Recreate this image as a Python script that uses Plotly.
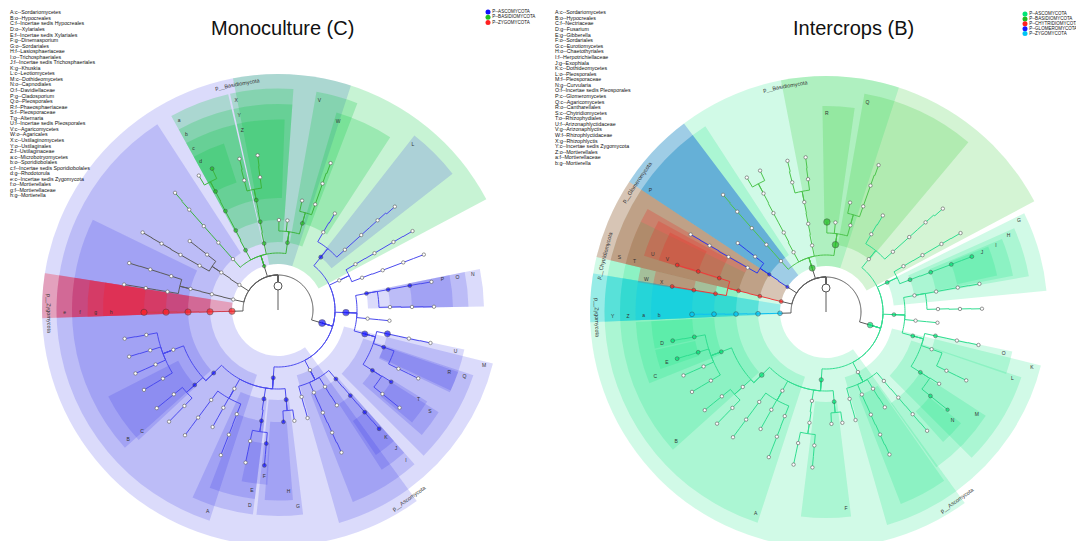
import math
import plotly.graph_objects as go

# ---------------- biomarker keys (text lists, top left of each panel) ----------------
mono_keys = [
    "A:c--Sordariomycetes", "B:o--Hypocreales", "C:f--Incertae sedis Hypocreales",
    "D:o--Xylariales", "E:f--Incertae sedis Xylariales", "F:g--Dinemasporium",
    "G:o--Sordariales", "H:f--Lasiosphaeriaceae", "I:o--Trichosphaeriales",
    "J:f--Incertae sedis Trichosphaeriales", "K:g--Khuskia", "L:c--Leotiomycetes",
    "M:c--Dothideomycetes", "N:o--Capnodiales", "O:f--Davidiellaceae",
    "P:g--Cladosporium", "Q:o--Pleosporales", "R:f--Phaeosphaeriaceae",
    "S:f--Pleosporaceae", "T:g--Alternaria", "U:f--Incertae sedis Pleosporales",
    "V:c--Agaricomycetes", "W:o--Agaricales", "X:c--Ustilaginomycetes",
    "Y:o--Ustilaginales", "Z:f--Ustilaginaceae", "a:c--Microbotryomycetes",
    "b:o--Sporidiobolales", "c:f--Incertae sedis Sporidiobolales", "d:g--Rhodotorula",
    "e:c--Incertae sedis Zygomycota", "f:o--Mortierellales", "g:f--Mortierellaceae",
    "h:g--Mortierella",
]
inter_keys = [
    "A:c--Sordariomycetes", "B:o--Hypocreales", "C:f--Nectriaceae", "D:g--Fusarium",
    "E:g--Gibberella", "F:o--Sordariales", "G:c--Eurotiomycetes", "H:o--Chaetothyriales",
    "I:f--Herpotrichiellaceae", "J:g--Exophiala", "K:c--Dothideomycetes",
    "L:o--Pleosporales", "M:f--Pleosporaceae", "N:g--Curvularia",
    "O:f--Incertae sedis Pleosporales", "P:c--Glomeromycetes", "Q:c--Agaricomycetes",
    "R:o--Cantharellales", "S:c--Chytridiomycetes", "T:o--Rhizophydiales",
    "U:f--Arizonaphlyctidaceae", "V:g--Arizonaphlyctis", "W:f--Rhizophlyctidaceae",
    "X:g--Rhizophlyctis", "Y:c--Incertae sedis Zygomycota", "Z:o--Mortierellales",
    "a:f--Mortierellaceae", "b:g--Mortierella",
]

# ---------------- groups (phyla) ----------------
mono_groups = ["P--ASCOMYCOTA", "P--BASIDIOMYCOTA", "P--ZYGOMYCOTA"]
mono_group_phylum = ["asco", "basi", "zygo"]
inter_groups = ["P--ASCOMYCOTA", "P--BASIDIOMYCOTA", "P--CHYTRIDIOMYCOTA",
                "P--GLOMEROMYCOTA", "P--ZYGOMYCOTA"]
inter_group_phylum = ["asco", "basi", "chyt", "glom", "zygo"]

# ---------------- shared taxonomic tree (key, parent, level, angle in deg) ----------------
node_key = [
    "root", "asco", "basi", "glom", "chyt", "zygo",
    "zy2", "zy3", "zy4", "zy5",
    "ch2", "ch3", "ch4a", "ch5a", "ch6a", "ch4b", "ch5b", "ch6b",
    "gl2", "gl3a", "gl4a", "gl5a", "gl6a", "gl3b", "gl4b",
    "mb2", "mb3", "mb4", "mb5", "mb6a", "mb6b",
    "bx2", "bx3", "bx4", "bx5", "bx6",
    "us2", "us3", "us4", "us5a", "us6a", "us5b", "us6b",
    "ag2", "ca3", "ag3x", "ar3", "ar4a", "ar4b", "ar5", "ar6",
    "le2", "le3a", "le4a", "le3b", "le4b", "le5b", "le6b",
    "eu2", "eu3a", "eu4a", "eu5a", "eu6a", "eu3b", "eu4b", "eu5b", "eu6b",
    "do2", "cp3", "cp4a", "cp5a", "cp6a", "cp4b", "cp5b", "cp6b", "dx3", "dx4",
    "pl3", "pl4a", "pl5a", "pl6a", "pl4b", "pl5b", "pl6b", "pl4c", "pl5c", "pl5d", "pl6d",
    "tr2", "tr3a", "tr4a", "tr5a", "tr6a", "tr3b", "tr4b", "tr3c", "tr4c", "tr5c", "tr6c",
    "tr3d", "tr4d",
    "so2", "sd3", "sd4a", "sd4b", "xy3", "xy4", "xy5a", "xy6a", "xy5b", "xy6b",
    "sx3", "sx4a", "sx5a", "sx6a", "sx4b", "sx5b", "sx4c", "sx5c", "sx6c",
    "hy3", "hy4a", "hy5a", "hy6a", "hy5b", "hy6b",
    "ne4", "ne5a", "ne6a", "ne5b", "ne6b", "ne5c", "ne6c", "ne5d", "ne6d",
]
node_parent = [
    None, "root", "root", "root", "root", "root",
    "zygo", "zy2", "zy3", "zy4",
    "chyt", "ch2", "ch3", "ch4a", "ch5a", "ch3", "ch4b", "ch5b",
    "glom", "gl2", "gl3a", "gl4a", "gl5a", "gl2", "gl3b",
    "basi", "mb2", "mb3", "mb4", "mb5", "mb5",
    "basi", "bx2", "bx3", "bx4", "bx5",
    "basi", "us2", "us3", "us4", "us5a", "us4", "us5b",
    "basi", "ag2", "ag2", "ag2", "ar3", "ar3", "ar4b", "ar5",
    "asco", "le2", "le3a", "le2", "le3b", "le4b", "le5b",
    "asco", "eu2", "eu3a", "eu4a", "eu5a", "eu2", "eu3b", "eu4b", "eu5b",
    "asco", "do2", "cp3", "cp4a", "cp5a", "cp3", "cp4b", "cp5b", "do2", "dx3",
    "do2", "pl3", "pl4a", "pl5a", "pl3", "pl4b", "pl5b", "pl3", "pl4c", "pl4c", "pl5d",
    "asco", "tr2", "tr3a", "tr4a", "tr5a", "tr2", "tr3b", "tr2", "tr3c", "tr4c", "tr5c",
    "tr2", "tr3d",
    "asco", "so2", "sd3", "sd3", "so2", "xy3", "xy4", "xy5a", "xy4", "xy5b",
    "so2", "sx3", "sx4a", "sx5a", "sx3", "sx4b", "sx3", "sx4c", "sx5c",
    "so2", "hy3", "hy4a", "hy5a", "hy4a", "hy5b",
    "hy3", "ne4", "ne5a", "ne4", "ne5b", "ne4", "ne5c", "ne4", "ne5d",
]
node_level = [
    0, 1, 1, 1, 1, 1,
    2, 3, 4, 5,
    2, 3, 4, 5, 6, 4, 5, 6,
    2, 3, 4, 5, 6, 3, 4,
    2, 3, 4, 5, 6, 6,
    2, 3, 4, 5, 6,
    2, 3, 4, 5, 6, 5, 6,
    2, 3, 3, 3, 4, 4, 5, 6,
    2, 3, 4, 3, 4, 5, 6,
    2, 3, 4, 5, 6, 3, 4, 5, 6,
    2, 3, 4, 5, 6, 4, 5, 6, 3, 4,
    3, 4, 5, 6, 4, 5, 6, 4, 5, 5, 6,
    2, 3, 4, 5, 6, 3, 4, 3, 4, 5, 6,
    3, 4,
    2, 3, 4, 4, 3, 4, 5, 6, 5, 6,
    3, 4, 5, 6, 4, 5, 4, 5, 6,
    3, 4, 5, 6, 5, 6,
    4, 5, 6, 5, 6, 5, 6, 5, 6,
]
node_angle = [
    90, 343.5, 107.5, 147, 166.8, 181.6,
    181.5, 181.3, 181.1, 181.0,
    166.6, 166.4, 162.4, 162.4, 162.5, 170.6, 170.6, 170.6,
    146.5, 150.5, 150.5, 150.3, 150.2, 142, 142,
    118.5, 118, 118, 117.8, 115, 120.5,
    131.5, 131.5, 131.5, 131.5, 131.3,
    101.8, 101.4, 101.2, 104.6, 104.3, 97.7, 97.5,
    82, 89.4, 84, 74.3, 77.6, 70.6, 70.6, 70.3,
    51, 59.8, 59.5, 42, 42, 42, 41.5,
    25.8, 30.6, 30.5, 30.5, 30.4, 21, 20.8, 20.8, 20.8,
    -2.2, 10.6, 10.5, 10.5, 10.4, 1.5, 1.3, 1.2, -5.5, -5.5,
    -15.4, -12.3, -12.3, -12.2, -19.4, -26, -26, -32.6, -32.4, -38.8, -38.8,
    -62, -50, -49.8, -49.7, -49.6, -58.5, -58.3, -66.5, -66.4, -66.2, -66,
    -74.8, -74.7,
    266, 275.2, 272.8, 278.4, 261, 261.5, 265, 265, 258, 258,
    241, 248.4, 248.5, 248.5, 240.8, 240.8, 233.4, 233.4, 233.4,
    224.4, 222, 219, 219, 225.7, 225.7,
    200.8, 190.7, 190.6, 197.5, 197.4, 204, 204, 210.8, 210.8,
]

# ---------------- biomarker nodes (node, group, LDA score) ----------------
mono_mark_node = [
    "asco", "do2", "pl3", "pl4a", "le2", "cp3", "cp4a", "cp5a", "pl4b", "pl4c", "pl5c",
    "tr3a", "tr4a", "tr5a", "tr6a", "so2", "sd3", "sd4a", "xy3", "xy4", "xy5a", "xy6a",
    "hy3", "hy4a",
    "basi", "mb2", "mb3", "mb4", "mb5", "mb6a", "us2", "us3", "us4", "ag2", "ar3",
    "zygo", "zy2", "zy3", "zy4", "zy5",
]
mono_mark_group = [0] * 24 + [1] * 11 + [2] * 5
mono_mark_lda = [
    4.6, 4.4, 4.2, 4.2, 3.3, 3.2, 3.2, 3.2, 3.2, 3.2, 3.2,
    3.2, 3.2, 3.2, 3.2, 3.3, 3.3, 3.2, 3.3, 3.2, 3.2, 3.2,
    3.3, 3.2,
    3.0, 3.2, 3.2, 3.2, 3.2, 3.2, 3.2, 3.2, 3.2, 3.2, 3.2,
    4.3, 4.3, 4.3, 4.3, 4.3,
]
inter_mark_node = [
    "asco", "so2", "hy3", "ne4", "ne5a", "ne6a", "ne5b", "ne6b", "sd3",
    "eu2", "eu3b", "eu4b", "eu5b", "eu6b", "do2", "pl3", "pl4a", "pl4c", "pl5d", "pl6d",
    "basi", "ag2", "ca3",
    "chyt", "ch2", "ch3", "ch4a", "ch5a", "ch6a", "ch4b", "ch5b", "ch6b",
    "glom", "gl2",
    "zygo", "zy2", "zy3", "zy4", "zy5",
]
inter_mark_group = [0] * 20 + [1] * 3 + [2] * 9 + [3] * 2 + [4] * 5
inter_mark_lda = [
    4.0, 3.4, 3.6, 3.2, 3.2, 3.2, 3.2, 3.2, 3.2,
    3.2, 3.2, 3.2, 3.2, 3.2, 3.2, 3.2, 3.2, 3.2, 3.2, 3.0,
    4.2, 4.4, 4.4,
    3.2, 3.2, 3.2, 3.2, 3.2, 3.2, 3.2, 3.2, 3.2,
    3.0, 3.0,
    3.6, 3.6, 3.6, 3.6, 3.6,
]

# ---------------- shaded clades (label, group, level, from angle, to angle) ----------------
mono_clade_text = [
    "p__Ascomycota", "p__Basidiomycota", "p__Zygomycota",
    "A", "M", "L", "", "V", "X", "a", "e",
    "B", "D", "G", "I", "Q", "", "N", "W", "Y", "b", "f",
    "C", "E", "H", "J", "R", "S", "U", "O", "Z", "c", "g",
    "F", "K", "T", "P", "d", "h",
]
mono_clade_group = [
    0, 1, 2,
    0, 0, 0, 0, 1, 1, 1, 2,
    0, 0, 0, 0, 0, 0, 0, 1, 1, 1, 2,
    0, 0, 0, 0, 0, 0, 0, 0, 1, 1, 2,
    0, 0, 0, 0, 1, 2,
]
mono_clade_level = [1] * 3 + [2] * 8 + [3] * 11 + [4] * 11 + [5] * 6
mono_clade_from = [
    72, 28, 171,
    123, -54, 38, -74, 69, 86, 103, 171,
    154, 245.5, 264, -55, -45, -68.7, 1, 57, 86, 103, 171,
    207, 249, 266, -57, -25, -41, -25.6, 1, 88, 103, 171,
    258, -56, -40, 1, 108, 171,
]
mono_clade_to = [
    306, 101, 182,
    252, -14, 52, -54, 80, 102.5, 118.8, 182,
    222, 263, 277, -48.5, -18.5, -55, 11.5, 73.5, 102.5, 118.8, 182,
    223, 263, 274.5, -48.5, -19, -32.5, -12, 11.5, 102.5, 118.8, 182,
    266.5, -48.5, -31.5, 11.5, 118.8, 182,
]

inter_clade_text = [
    "p__Ascomycota", "p__Basidiomycota", "p__Glomeromycota", "p__Chytridiomycota",
    "p__Zygomycota",
    "A", "K", "G", "", "Q", "P", "S", "Y",
    "B", "F", "H", "L", "", "R", "T", "Z",
    "C", "I", "M", "O", "U", "W", "a",
    "D", "E", "J", "N", "V", "X", "b",
]
inter_clade_group = [
    0, 1, 3, 2, 4,
    0, 0, 0, 0, 1, 3, 2, 4,
    0, 0, 0, 0, 0, 1, 2, 4,
    0, 0, 0, 0, 2, 2, 4,
    0, 0, 0, 0, 2, 2, 4,
]
inter_clade_level = [1] * 5 + [2] * 8 + [3] * 8 + [4] * 7 + [5] * 7
inter_clade_from = [
    72, 28, 127, 146.5, 170.6,
    123, -54, 5.5, -74, 50, 127, 146.5, 170.6,
    154, 263, 10, -45, -68.7, 82, 150, 170.6,
    183, 11, -54.6, -19, 151.5, 166.5, 170.6,
    183, 192.5, 12, -48, 153, 166.5, 170.6,
]
inter_clade_to = [
    306, 101, 146.5, 166.5, 182.5,
    252, -14, 26.5, -54, 80, 146.5, 166.5, 182.5,
    222, 277, 24, -18.5, -55, 91, 166.5, 182.5,
    202, 22.5, -33, -12, 162.8, 171, 182.5,
    192, 199, 22, -39.5, 162.8, 171, 182.5,
]

# ---------------- styling ----------------
W, H = 1084, 541
R_MAX = 236

mono_style = dict(
    node=["#1010ff", "#22c022", "#ff2020"],
    line=["#4a4aee", "#3cb43c", "#d04050"],
    fill=["rgba(30,30,230,0.16)", "rgba(0,200,60,0.22)", "rgba(245,25,45,0.30)"],
)
inter_style = dict(
    node=["#00e676", "#22bb22", "#ff2020", "#1a1aff", "#00c4f4"],
    line=["#30dd90", "#4cc44c", "#ee3a3a", "#2a3aee", "#10c0f0"],
    fill=["rgba(0,225,120,0.18)", "rgba(40,200,40,0.20)", "rgba(235,40,30,0.25)",
          "rgba(30,90,230,0.28)", "rgba(0,200,235,0.28)"],
)


def node_r(level):
    return 24 + 22 * level


def clade_outer(level):
    return 237 - 15.5 * (level - 1)


idx = {k: i for i, k in enumerate(node_key)}


def phylum_of(key):
    while node_level[idx[key]] > 1:
        key = node_parent[idx[key]]
    return key


def branch_traces(subplot, group_phylum, style):
    # one path per colour: radial stem, arc at elbow radius, stem to the parent
    paths = {}
    for i, key in enumerate(node_key):
        par = node_parent[i]
        if par is None:
            continue
        p = idx[par]
        a_c, a_p = node_angle[i], node_angle[p]
        r_c, r_p = node_r(node_level[i]), node_r(node_level[p])
        r_e = r_p + 11
        d = ((a_p - a_c + 180) % 360) - 180
        n = max(2, int(abs(d) / 1.5) + 1)
        rr = [r_c, r_e] + [r_e] * n + [r_p, None]
        tt = [a_c, a_c] + [a_c + d * j / (n - 1) for j in range(n)] + [a_p, None]
        ph = phylum_of(key)
        if node_level[i] == 1 or ph not in group_phylum:
            col = "#5a5a5a"
        else:
            col = style["line"][group_phylum.index(ph)]
        pr, pt = paths.setdefault(col, ([], []))
        pr.extend(rr)
        pt.extend(tt)
    # stem from the root node down to the centre
    pr, pt = paths.setdefault("#5a5a5a", ([], []))
    pr.extend([node_r(0), 0])
    pt.extend([node_angle[0], node_angle[0]])
    out = []
    for col, (pr, pt) in paths.items():
        out.append(go.Scatterpolar(r=pr, theta=pt, mode="lines", subplot=subplot,
                                   line=dict(color=col, width=1), hoverinfo="skip",
                                   showlegend=False))
    return out


def panel_traces(subplot, clade_text, clade_group, clade_level, clade_from, clade_to,
                 mark_node, mark_group, mark_lda, group_phylum, style):
    traces = []
    # shaded clades, outer levels first
    order = sorted(range(len(clade_text)), key=lambda i: clade_level[i])
    theta, width, base, rlen, cols = [], [], [], [], []
    for i in order:
        lv = clade_level[i]
        theta.append((clade_from[i] + clade_to[i]) / 2)
        width.append(clade_to[i] - clade_from[i])
        base.append(node_r(lv))
        rlen.append(clade_outer(lv) - node_r(lv))
        cols.append(style["fill"][clade_group[i]])
    traces.append(go.Barpolar(theta=theta, width=width, base=base, r=rlen,
                              subplot=subplot, marker=dict(color=cols, line=dict(width=0)),
                              hoverinfo="skip", showlegend=False))
    traces += branch_traces(subplot, group_phylum, style)
    # plain nodes
    plain = [i for i, k in enumerate(node_key) if k not in mark_node and k != "root"]
    traces.append(go.Scatterpolar(
        r=[node_r(node_level[i]) for i in plain], theta=[node_angle[i] for i in plain],
        mode="markers", subplot=subplot, hoverinfo="skip", showlegend=False,
        marker=dict(size=3.4, color="#ffffff", line=dict(color="#6a6a6a", width=0.7))))
    traces.append(go.Scatterpolar(
        r=[node_r(0)], theta=[node_angle[0]], mode="markers", subplot=subplot,
        hoverinfo="skip", showlegend=False,
        marker=dict(size=8, color="#ffffff", line=dict(color="#555555", width=1))))
    # biomarker nodes
    mi = [idx[k] for k in mark_node]
    traces.append(go.Scatterpolar(
        r=[node_r(node_level[i]) for i in mi], theta=[node_angle[i] for i in mi],
        mode="markers", subplot=subplot, hoverinfo="skip", showlegend=False,
        marker=dict(size=[2.2 * v - 3.2 for v in mark_lda],
                    color=[style["node"][g] for g in mark_group],
                    line=dict(color="#333333", width=0.6))))
    # letters inside the label rings
    li = [i for i in range(len(clade_text)) if clade_level[i] > 1 and clade_text[i]]
    traces.append(go.Scatterpolar(
        r=[clade_outer(clade_level[i]) - 8 for i in li],
        theta=[clade_to[i] - 1.2 for i in li], text=[clade_text[i] for i in li],
        mode="text", subplot=subplot, hoverinfo="skip", showlegend=False,
        textfont=dict(size=5, color="#333333", family="Liberation Sans, Arial")))
    return traces


def phylum_annotations(xref, yref, clade_text, clade_level, clade_to):
    anns = []
    for i, t in enumerate(clade_text):
        if clade_level[i] != 1:
            continue
        a = clade_to[i] - 1
        rr = clade_outer(1) - 8
        tang = (a + 90 + 180) % 360 - 180
        if tang > 90:
            tang -= 180
        if tang <= -90:
            tang += 180
        anns.append(dict(x=rr * math.cos(math.radians(a)), y=rr * math.sin(math.radians(a)),
                         xref=xref, yref=yref, text=t, showarrow=False, textangle=-tang,
                         xanchor="center", yanchor="middle",
                         font=dict(size=5.5, color="#333333", family="Liberation Sans, Arial")))
    return anns


fig = go.Figure()
for tr in panel_traces("polar", mono_clade_text, mono_clade_group, mono_clade_level,
                       mono_clade_from, mono_clade_to, mono_mark_node, mono_mark_group,
                       mono_mark_lda, mono_group_phylum, mono_style):
    fig.add_trace(tr)
for tr in panel_traces("polar2", inter_clade_text, inter_clade_group, inter_clade_level,
                       inter_clade_from, inter_clade_to, inter_mark_node, inter_mark_group,
                       inter_mark_lda, inter_group_phylum, inter_style):
    fig.add_trace(tr)

# invisible anchors so the overlay axes exist
for ax, ay in (("x", "y"), ("x2", "y2")):
    fig.add_trace(go.Scatter(x=[0], y=[0], xaxis=ax, yaxis=ay, mode="markers",
                             marker=dict(opacity=0), hoverinfo="skip", showlegend=False))

# key lists and group legends on a page-sized axis (pixel units)
key_font = dict(size=5.3, color="#111111", family="Liberation Sans, Arial")
leg_font = dict(size=4.5, color="#111111", family="Liberation Sans, Arial")
fig.add_trace(go.Scatter(x=[2] * len(mono_keys), y=[5 + 5.55 * i for i in range(len(mono_keys))],
                         text=mono_keys, mode="text", textposition="middle right",
                         textfont=key_font, xaxis="x3", yaxis="y3",
                         hoverinfo="skip", showlegend=False))
fig.add_trace(go.Scatter(x=[547] * len(inter_keys), y=[5 + 5.58 * i for i in range(len(inter_keys))],
                         text=inter_keys, mode="text", textposition="middle right",
                         textfont=key_font, xaxis="x3", yaxis="y3",
                         hoverinfo="skip", showlegend=False))
fig.add_trace(go.Scatter(x=[480] * len(mono_groups), y=[4 + 5.3 * i for i in range(len(mono_groups))],
                         text=mono_groups, mode="markers+text", textposition="middle right",
                         marker=dict(size=5, color=mono_style["node"]),
                         textfont=leg_font, xaxis="x3", yaxis="y3",
                         hoverinfo="skip", showlegend=False))
fig.add_trace(go.Scatter(x=[1017] * len(inter_groups), y=[6 + 4.9 * i for i in range(len(inter_groups))],
                         text=inter_groups, mode="markers+text", textposition="middle right",
                         marker=dict(size=5, color=inter_style["node"]),
                         textfont=leg_font, xaxis="x3", yaxis="y3",
                         hoverinfo="skip", showlegend=False))

left_dom = dict(x=[34 / W, 506 / W], y=[1 - 538 / H, 1 - 66 / H])
right_dom = dict(x=[582 / W, 1054 / W], y=[1 - 540 / H, 1 - 68 / H])


def polar_layout(dom):
    return dict(domain=dom, bgcolor="rgba(0,0,0,0)", barmode="overlay", hole=0,
                radialaxis=dict(visible=False, range=[0, R_MAX]),
                angularaxis=dict(visible=False, rotation=0, direction="counterclockwise"))


hidden = dict(visible=False, showgrid=False, zeroline=False, fixedrange=True)

annotations = []
annotations += phylum_annotations("x", "y", mono_clade_text, mono_clade_level, mono_clade_to)
annotations += phylum_annotations("x2", "y2", inter_clade_text, inter_clade_level, inter_clade_to)
annotations.append(dict(x=274 / W, y=1 - 20 / H, xref="paper", yref="paper",
                        xanchor="center", yanchor="middle",
                        text="Monoculture (C)", showarrow=False,
                        font=dict(size=20, color="#111111", family="Liberation Sans, Arial")))
annotations.append(dict(x=845 / W, y=1 - 20 / H, xref="paper", yref="paper",
                        xanchor="center", yanchor="middle",
                        text="Intercrops (B)", showarrow=False,
                        font=dict(size=20, color="#111111", family="Liberation Sans, Arial")))

fig.update_layout(
    width=W, height=H,
    margin=dict(l=0, r=0, t=0, b=0),
    paper_bgcolor="white", plot_bgcolor="rgba(0,0,0,0)",
    polar=polar_layout(left_dom),
    polar2=polar_layout(right_dom),
    xaxis=dict(domain=left_dom["x"], range=[-R_MAX, R_MAX], **hidden),
    yaxis=dict(domain=left_dom["y"], range=[-R_MAX, R_MAX], **hidden),
    xaxis2=dict(domain=right_dom["x"], range=[-R_MAX, R_MAX], anchor="y2", **hidden),
    yaxis2=dict(domain=right_dom["y"], range=[-R_MAX, R_MAX], anchor="x2", **hidden),
    xaxis3=dict(domain=[0, 1], range=[0, W], anchor="y3", **hidden),
    yaxis3=dict(domain=[0, 1], range=[H, 0], anchor="x3", **hidden),
    annotations=annotations,
    showlegend=False,
)

fig.write_html("out.html")
